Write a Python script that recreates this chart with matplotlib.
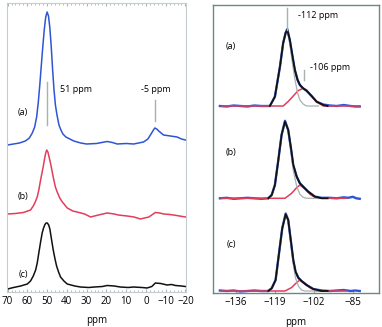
import numpy as np
import matplotlib
matplotlib.use("Agg")
import matplotlib.pyplot as plt
from matplotlib.ticker import MultipleLocator

plt.rcParams['font.family'] = ['Open Sans', 'DejaVu Sans']

# ---- left panel: spectra (ppm, intensity) ----
ppm_a = [70, 67, 64, 61, 59, 57.5, 56.3, 55.3, 54.5, 53.7, 53, 52.2, 51.4, 50.7, 50, 49.3,
         48.6, 47.9, 47.2, 46.5, 45.8, 45, 44, 43, 42, 40.5, 38.5, 36.5, 33, 30, 25, 21,
         19.6, 17, 14.5, 10, 6.2, 1.2, -1, -2.3, -3.5, -4.5, -5.5, -6.5, -8.9,
         -12.4, -15.8, -18, -20]
int_a = [0, 1, 2, 4, 7, 12, 18, 28, 42, 60, 78, 98, 116, 128, 133, 129,
         117, 98, 75, 55, 40, 30, 20, 15, 11, 8, 6, 4, 2, 1, 1.5, 3,
         3.5, 2.5, 1, 1.5, 1, 3, 6, 10, 14, 17, 16, 14, 10,
         9, 8, 6, 5]

ppm_b = [70, 66, 62, 58.4, 57, 56, 55, 54.2, 53.3, 52.6, 52, 51.3, 50.7, 50.2, 49.6, 49,
         48.3, 47.5, 46.6, 45.8, 44.9, 43.6, 42.3, 41, 39.8, 37, 34.8, 31,
         28, 24, 19.6, 16, 14, 9.5, 6, 2.8, -1.5, -4.8, -7, -9, -12, -14, -17, -20]
int_b = [1, 1.5, 2.5, 5, 9, 13, 18, 25, 35, 42, 48, 56, 62, 65, 63, 58,
         52, 44, 35, 28, 23, 17, 13, 10, 7, 4, 3, 1,
         -2, 0, 2, 1, 0, -1, -2, -4, -2, 2.5, 2, 1, 0.5, 0, -1, -2]

ppm_c = [70, 67, 63.4, 60, 58.4, 57, 55.8, 55, 54.2, 53.3, 52.5, 51.8, 51.1, 50.5, 49.9,
         49.2, 48.6, 47.8, 46.9, 46, 45.2, 44.2, 43.2, 41.5, 39.8,
         36, 33.1, 29, 26, 22, 19.6, 16, 13, 9, 6.3, 2, -0.6, -3, -4.8, -7.5, -10.7, -13,
         -15, -18, -20]
int_c = [-1, 0.5, 2, 4, 7, 12, 18, 25, 35, 46, 55, 60, 63.5, 65, 65,
         63, 59, 49, 38, 29, 22, 16, 11, 7, 4,
         2, 1, 0.5, 1, 1.5, 2.5, 2, 1, 0.5, 1, 0.5, 0, 1.5, 5, 4.5, 3, 3.5,
         2.5, 2, 1.5]

left_offsets = [147, 77, 4]

# ---- right panel: deconvolution (ppm, intensity) ----
blue_ppm_a = [-143, -140, -137, -134, -131, -128, -125, -121.2, -119.0, -116.8, -115.4, -114.3,
              -113.6, -112.5, -111.3, -110.3, -109.1, -108.1, -106.7, -105.2, -103.0, -100.8,
              -97.9, -95, -92, -89, -86, -84, -82]
blue_int_a = [0, -0.5, 0.5, 0, -0.5, 0.5, 0, 0, 9.3, 39.3, 63, 73.3,
              77, 66, 49.3, 36, 26, 21, 17.7, 15.3, 10, 4.3,
              1.5, 0.5, 0, 1, 0, -0.5, -0.5]
fit_ppm_a = [-121.2, -119.0, -116.8, -115.4, -114.3, -113.6, -112.5, -111.3, -110.3, -109.1,
             -108.1, -106.7, -105.2, -103.0, -100.8, -97.9, -96]
fit_int_a = [0, 9.3, 39.3, 63, 73.3, 76, 66, 49.3, 36, 26, 21, 17.7, 15.3, 10, 4.3, 1, 0]
red_ppm_a = [-142.3, -120, -115.4, -113.3, -111.0, -108.9, -106.7, -105.2, -103.0, -100.8,
             -97.9, -90, -82]
red_int_a = [0, 0, 0, 4.3, 10, 15.3, 17.7, 16, 10, 4.3, 0, 0, 0]
gray_ppm_a = [-121.2, -119.0, -116.8, -115.4, -114.3, -113.6, -112.5, -111.3, -110.3, -109.1,
              -108.1, -106.7, -105.2, -100]
gray_int_a = [0, 9, 39, 63, 73, 76, 62, 42, 27, 13, 6, 2, 0, 0]

blue_ppm_b = [-143, -140, -137, -134, -131, -128, -125, -121.9, -120.4, -119.0, -117.6, -116.1,
              -114.6, -113.2, -112.0, -111.0, -109.5, -108.1, -106.7, -104.5, -101.6, -98.6,
              -95, -92, -89, -87, -85, -83.5, -82]
blue_int_b = [0, 0.5, -0.5, 0, 0.5, 0, -0.5, 0, 3.3, 13.3, 36.7, 63.3,
              77.5, 68.3, 50, 33.3, 21.7, 15, 11.7, 6.7, 1.7, 0.5,
              0.5, 0, 1, 0.5, 1.5, 0, -0.5]
fit_ppm_b = [-121.9, -120.4, -119.0, -117.6, -116.1, -114.6, -113.2, -112.0, -111.0, -109.5,
             -108.1, -106.7, -104.5, -101.6, -98.6, -96]
fit_int_b = [0, 3.3, 13.3, 36.7, 63.3, 76.7, 68.3, 50, 33.3, 21.7, 15, 11.7, 6.7, 1.7, 0, 0]
red_ppm_b = [-142.3, -120, -114.6, -111.7, -109.5, -108.1, -105.9, -103.7, -100.8, -94, -88]
red_int_b = [0, 0, 0, 5, 10.7, 13.3, 9.3, 4, 0, 0, 0]
gray_ppm_b = [-121.9, -120.4, -119.0, -117.6, -116.1, -114.6, -113.2, -112.0, -111.0, -109.5,
              -108.1, -106.7, -105.2, -100]
gray_int_b = [0, 3.3, 13.3, 36.7, 63.3, 76.7, 67, 47, 28, 12, 4, 1, 0, 0]

blue_ppm_c = [-143, -140, -137, -134, -131, -128, -125, -121.9, -120.4, -118.7, -117.3, -115.8,
              -114.3, -113.2, -112.0, -111.0, -110.0, -108.8, -107.4, -105.2, -102.3, -98.6,
              -95, -92, -89, -86, -84, -82]
blue_int_c = [0.5, 0, 0.5, -0.5, 0, 0.5, 0, 0, 2.7, 11, 36, 62.7,
              77.5, 71, 49.3, 31, 19.3, 13.3, 10, 6, 2, 0.5,
              0, 0.5, 1, 0, 0.5, 0]
fit_ppm_c = [-121.9, -120.4, -118.7, -117.3, -115.8, -114.3, -113.2, -112.0, -111.0, -110.0,
             -108.8, -107.4, -105.2, -102.3, -98.6, -96]
fit_int_c = [0, 2.7, 11, 36, 62.7, 76.7, 71, 49.3, 31, 19.3, 13.3, 10, 6, 2, 0, 0]
red_ppm_c = [-142.3, -120, -114.6, -111.7, -109.5, -108.1, -105.9, -103.7, -100.8, -94, -88]
red_int_c = [0, 0, 0, 3.5, 8.5, 11, 7.7, 3.3, 0, 0, 0]
gray_ppm_c = [-121.9, -120.4, -118.7, -117.3, -115.8, -114.3, -113.2, -112.0, -111.0, -110.0,
              -108.8, -107.4, -105.9, -100]
gray_int_c = [0, 2.7, 11, 36, 62.7, 76.7, 70, 47, 27, 13, 5, 1, 0, 0]

right_offsets = [187, 94.7, 2]

labels = ["(a)", "(b)", "(c)"]
blue = "#2f55d4"
red = "#e23d5c"
grayc = "#a8b0b0"

fig = plt.figure(figsize=(3.82, 3.27), dpi=100)

# left panel
ax1 = fig.add_axes([7/382, 35/327, 179/382, 289/327])
for x, y, off, c in zip([ppm_a, ppm_b, ppm_c], [int_a, int_b, int_c], left_offsets,
                        [blue, red, "#111111"]):
    ax1.plot(x, np.array(y) + off, color=c, lw=1.1)
ax1.set_xlim(70.3, -20.3)
ax1.set_ylim(0, 289)
ax1.xaxis.set_major_locator(MultipleLocator(10))
ax1.xaxis.set_minor_locator(MultipleLocator(2))
ax1.set_yticks([])
ax1.tick_params(axis='x', which='both', direction='in', top=True, color='#a9b6ba',
                labelsize=7, pad=3)
ax1.tick_params(axis='x', which='major', length=2.5)
ax1.tick_params(axis='x', which='minor', length=1.5)
for s in ax1.spines.values():
    s.set_color('#c3cdd0')
    s.set_linewidth(0.8)
ax1.set_xlabel("ppm", fontsize=7, labelpad=6)
# peak markers
ax1.plot([50.2, 50.2], [167, 210], color=grayc, lw=1)
ax1.plot([-4.6, -4.6], [171, 192], color=grayc, lw=1)
ax1.text(43.5, 203, "51 ppm", fontsize=6.5, va='center', ha='left')
ax1.text(2.5, 203, "-5 ppm", fontsize=6.5, va='center', ha='left')
for lab, yy in zip(labels, [179, 95, 17]):
    ax1.text(62.2, yy, lab, fontsize=6.5, va='center', ha='center')

# right panel
ax2 = fig.add_axes([213/382, 34/327, 166/382, 288/327])
sets = [
    (blue_ppm_a, blue_int_a, fit_ppm_a, fit_int_a, red_ppm_a, red_int_a, gray_ppm_a, gray_int_a),
    (blue_ppm_b, blue_int_b, fit_ppm_b, fit_int_b, red_ppm_b, red_int_b, gray_ppm_b, gray_int_b),
    (blue_ppm_c, blue_int_c, fit_ppm_c, fit_int_c, red_ppm_c, red_int_c, gray_ppm_c, gray_int_c),
]
for (bx, by, fx, fy, rx, ry, gx, gy), off in zip(sets, right_offsets):
    ax2.plot(bx, np.array(by) + off, color=blue, lw=1.7)
    ax2.plot(rx, np.array(ry) + off, color=red, lw=1.1)
    ax2.plot(gx, np.array(gy) + off, color=grayc, lw=0.9)
    ax2.plot(fx, np.array(fy) + off, color="#111111", lw=1.3)
ax2.set_xlim(-146.0, -73.6)
ax2.set_ylim(0, 288)
ax2.set_xticks([-136, -119, -102, -85])
ax2.set_yticks([])
ax2.tick_params(axis='x', direction='in', length=2, color='#9aa6a6', labelsize=7, pad=3)
for s in ax2.spines.values():
    s.set_color('#6e8686')
    s.set_linewidth(1.0)
ax2.set_xlabel("ppm", fontsize=7, labelpad=6)
ax2.plot([-113.7, -113.7], [263, 285], color=grayc, lw=1)
ax2.plot([-106.3, -106.3], [213, 223], color=grayc, lw=1)
ax2.text(-109.0, 277, "-112 ppm", fontsize=6.5, va='center', ha='left')
ax2.text(-103.7, 226, "-106 ppm", fontsize=6.5, va='center', ha='left')
for lab, yy in zip(labels, [246, 141, 48]):
    ax2.text(-138.2, yy, lab, fontsize=6.5, va='center', ha='center')

fig.savefig("out.png", dpi=100)
